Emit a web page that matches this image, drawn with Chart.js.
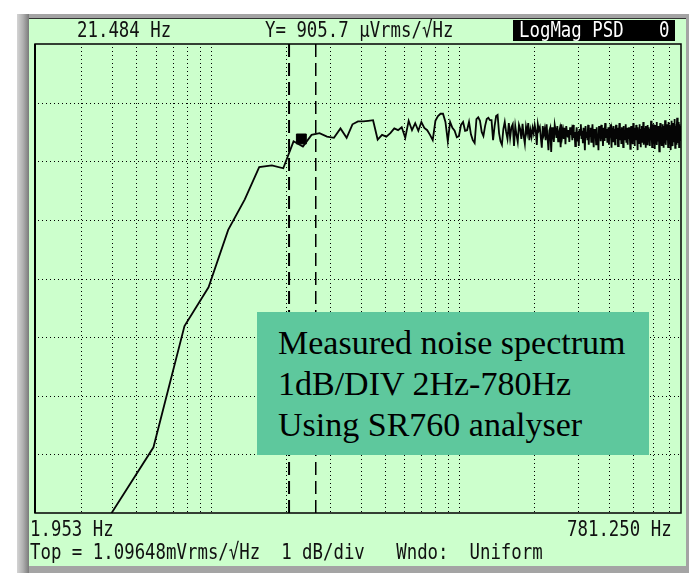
<!DOCTYPE html>
<html>
<head>
<meta charset="utf-8">
<script src="https://cdn.jsdelivr.net/npm/chart.js@4.4.1/dist/chart.umd.min.js"></script>
<style>
  html, body { margin: 0; padding: 0; background: #ffffff; }
  #stage { position: relative; width: 689px; height: 573px; overflow: hidden; background: #ffffff; }
  #frame { position: absolute; left: 17px; top: 14px; width: 672px; height: 559px;
           background: #a4a4a4; }
  #frameLeft { position: absolute; left: 17px; top: 14px; width: 12px; height: 559px;
           background: linear-gradient(to right, #d4d4d4, #b0b0b0 50%, #7a7a7a); }
  #panel { position: absolute; left: 29px; top: 18px; width: 657px; height: 548px; background: #ccffcc;
           border-top: 1px solid #333; box-sizing: border-box; }
  canvas { position: absolute; left: 0; top: 0; }
  .lcd { position: absolute; font-family: "DejaVu Sans Mono", monospace; font-size: 22px; line-height: 22px;
         color: #111; white-space: pre; transform: scaleX(0.79); transform-origin: 0 0; }
  #psdBox { position: absolute; left: 513px; top: 20px; width: 162px; height: 21px; background: #000; }
  #note { position: absolute; left: 257px; top: 312px; width: 392px; height: 143px; background: #5ec89d;
          box-sizing: border-box; padding: 10px 0 0 21px; font-family: "Liberation Serif", "Times New Roman", serif;
          font-size: 34px; line-height: 41px; color: #000; white-space: nowrap; }
</style>
</head>
<body>
<div id="stage">
  <div id="frame"></div>
  <div id="frameLeft"></div>
  <div id="panel"></div>
  <canvas id="c" width="689" height="573"></canvas>
  <div class="lcd" style="left:77px; top:19px;">21.484 Hz</div>
  <div class="lcd" style="left:265px; top:19px;">Y= 905.7 µVrms/√Hz</div>
  <div id="psdBox"></div>
  <div class="lcd" style="left:519px; top:19px; color:#fff;">LogMag PSD</div>
  <div class="lcd" style="left:659px; top:19px; color:#fff;">0</div>
  <div class="lcd" style="left:30px; top:518px;">1.953 Hz</div>
  <div class="lcd" style="left:567px; top:518px;">781.250 Hz</div>
  <div class="lcd" style="left:30px; top:541px;">Top = 1.09648mVrms/√Hz  1 dB/div   Wndo:  Uniform</div>
  <div id="note">Measured noise spectrum<br>1dB/DIV 2Hz-780Hz<br>Using SR760 analyser</div>
</div>
<script>
// ---- Data (dB relative to Top = 1.09648 mVrms/√Hz, 1 dB/div) ----
const startHz = 1.953125;          // first FFT line
const stopHz = 781.25;             // last FFT line (400 lines)
const binWidthHz = 1.953125;
const topDb = 0;
const bottomDb = -8;

// vertical grid frequencies (Hz)
const gridHz = [3,4,5,6,7,8,9,10,20,30,40,50,60,70,80,90,100,200,300,400,500,600,700];
// horizontal grid levels (dB)
const gridDb = [-1,-2,-3,-4,-5,-6,-7];

// cursor band (dashed lines) and cursor marker
const cursorBandHz = [20.61, 26.40];
const markerHz = [23.1];
const markerDb = [-1.62];

// PSD values, one per FFT line (dB re Top)
const psdDb = [
-8.9,-8.05,-6.88,-4.81,-4.15,-3.17,-2.65,-2.10,-2.07,-2.12,
-1.66,-1.75,-1.55,-1.52,-1.58,-1.60,-1.44,-1.60,-1.37,-1.32,
-1.32,-1.31,-1.30,-1.63,-1.55,-1.58,-1.52,-1.44,-1.47,-1.42,
-1.60,-1.31,-1.47,-1.35,-1.48,-1.33,-1.43,-1.47,-1.55,-1.64,
-1.31,-1.23,-1.19,-1.19,-1.33,-1.66,-1.33,-1.43,-1.48,-1.59,
-1.57,-1.38,-1.33,-1.48,-1.47,-1.33,-1.54,-1.64,-1.69,-1.28,
-1.25,-1.31,-1.50,-1.57,-1.40,-1.28,-1.26,-1.30,-1.30,-1.64,
-1.40,-1.23,-1.21,-1.52,-1.66,-1.72,-1.45,-1.33,-1.50,-1.62,
-1.35,-1.60,-1.42,-1.37,-1.74,-1.40,-1.55,-1.67,-1.38,-1.45,
-1.62,-1.36,-1.57,-1.70,-1.41,-1.52,-1.35,-1.64,-1.47,-1.58,
-1.43,-1.52,-1.38,-1.48,-1.72,-1.37,-1.47,-1.42,-1.60,-1.77,
-1.40,-1.54,-1.45,-1.64,-1.37,-1.59,-1.81,-1.48,-1.43,-1.84,
-1.42,-1.55,-1.67,-1.38,-1.47,-1.60,-1.40,-1.66,-1.52,-1.45,
-1.76,-1.37,-1.57,-1.48,-1.62,-1.43,-1.71,-1.40,-1.52,-1.59,
-1.47,-1.67,-1.42,-1.55,-1.48,-1.64,-1.38,-1.60,-1.50,-1.74,
-1.57,-1.42,-1.66,-1.50,-1.74,-1.45,-1.55,-1.37,-1.62,-1.48,
-1.69,-1.43,-1.54,-1.81,-1.40,-1.59,-1.50,-1.64,-1.38,-1.72,
-1.47,-1.57,-1.43,-1.67,-1.52,-1.37,-1.60,-1.76,-1.45,-1.55,
-1.48,-1.71,-1.42,-1.62,-1.54,-1.81,-1.40,-1.57,-1.47,-1.66,
-1.38,-1.59,-1.52,-1.74,-1.43,-1.64,-1.50,-1.35,-1.60,-1.55,
-1.45,-1.67,-1.54,-1.42,-1.72,-1.48,-1.60,-1.37,-1.57,-1.77,
-1.47,-1.52,-1.66,-1.40,-1.59,-1.45,-1.71,-1.50,-1.38,-1.62,
-1.55,-1.43,-1.74,-1.48,-1.57,-1.35,-1.64,-1.54,-1.45,-1.69,
-1.42,-1.60,-1.50,-1.76,-1.40,-1.55,-1.64,-1.47,-1.59,-1.37,
-1.67,-1.52,-1.43,-1.72,-1.48,-1.57,-1.42,-1.62,-1.54,-1.79,
-1.50,-1.40,-1.66,-1.55,-1.45,-1.71,-1.35,-1.59,-1.48,-1.74,
-1.43,-1.54,-1.64,-1.38,-1.60,-1.52,-1.81,-1.42,-1.57,-1.47,
-1.69,-1.37,-1.62,-1.50,-1.76,-1.45,-1.55,-1.40,-1.67,-1.48,
-1.59,-1.33,-1.72,-1.54,-1.43,-1.64,-1.52,-1.77,-1.40,-1.60,
-1.47,-1.71,-1.38,-1.57,-1.48,-1.66,-1.42,-1.62,-1.54,-1.74,
-1.45,-1.55,-1.31,-1.64,-1.52,-1.76,-1.42,-1.60,-1.37,-1.69,
-1.48,-1.57,-1.43,-1.79,-1.38,-1.62,-1.50,-1.59,-1.33,-1.72,
-1.54,-1.45,-1.66,-1.40,-1.60,-1.52,-1.83,-1.43,-1.55,-1.35,
-1.67,-1.47,-1.59,-1.42,-1.74,-1.50,-1.37,-1.62,-1.54,-1.77,
-1.40,-1.57,-1.48,-1.69,-1.30,-1.59,-1.45,-1.72,-1.52,-1.42,
-1.64,-1.37,-1.55,-1.47,-1.76,-1.33,-1.60,-1.52,-1.43,-1.71,
-1.38,-1.57,-1.48,-1.81,-1.42,-1.62,-1.31,-1.67,-1.54,-1.45,
-1.74,-1.35,-1.59,-1.50,-1.66,-1.28,-1.57,-1.43,-1.77,-1.40,
-1.62,-1.52,-1.37,-1.72,-1.47,-1.26,-1.59,-1.42,-1.69,-1.48,
-1.55,-1.33,-1.76,-1.45,-1.60,-1.37,-1.64,-1.50,-1.40,-1.57
];

// table for the library: FFT line n sits at n * binWidthHz
const psdPoints = psdDb.map((v, i) => ({ x: (i + 1) * binWidthHz, y: v }));

// dotted graticule drawn at the library's own scale positions
const dotGridPlugin = {
  id: 'dotGrid',
  beforeDatasetsDraw(chart) {
    const { ctx, chartArea: a, scales } = chart;
    ctx.save();
    ctx.fillStyle = '#000000';
    gridHz.forEach(f => {
      const px = Math.round(scales.x.getPixelForValue(f));
      for (let py = Math.ceil(a.top) + 3; py < a.bottom - 1; py += 4) ctx.fillRect(px, py, 1, 1);
    });
    gridDb.forEach(d => {
      const py = Math.round(scales.y.getPixelForValue(d));
      for (let px = Math.ceil(a.left) + 3; px < a.right - 1; px += 4) ctx.fillRect(px, py, 1, 1);
    });
    ctx.restore();
  }
};

const framePlugin = {
  id: 'frame',
  afterDraw(chart) {
    const { ctx, chartArea: a } = chart;
    ctx.save();
    ctx.strokeStyle = '#000';
    ctx.lineWidth = 1.5;
    ctx.strokeRect(a.left, a.top, a.right - a.left, a.bottom - a.top);
    ctx.lineWidth = 2;
    ctx.beginPath();
    ctx.moveTo(a.left, a.top);
    ctx.lineTo(a.left, a.bottom);
    ctx.stroke();
    ctx.restore();
  }
};

new Chart(document.getElementById('c'), {
  type: 'line',
  data: {
    datasets: [
      { label: 'PSD', data: psdPoints, borderColor: '#050505', borderWidth: 1.8,
        pointRadius: 0, tension: 0, fill: false },
      { label: 'cursor A', data: [{ x: cursorBandHz[0], y: topDb }, { x: cursorBandHz[0], y: bottomDb }],
        borderColor: '#000', borderWidth: 2, borderDash: [13, 6], pointRadius: 0 },
      { label: 'cursor B', data: [{ x: cursorBandHz[1], y: topDb }, { x: cursorBandHz[1], y: bottomDb }],
        borderColor: '#000', borderWidth: 1.5, borderDash: [13, 6], pointRadius: 0 },
      { label: 'marker', data: markerHz.map((f, i) => ({ x: f, y: markerDb[i] })), showLine: false,
        pointStyle: 'rect', pointRadius: 7, backgroundColor: '#000', borderColor: '#000', borderWidth: 1 }
    ]
  },
  options: {
    responsive: false,
    animation: false,
    layout: { padding: { left: 35, top: 44, right: 7, bottom: 60 } },
    plugins: { legend: { display: false }, tooltip: { enabled: false } },
    scales: {
      x: {
        type: 'logarithmic', min: startHz, max: stopHz,
        afterBuildTicks: s => { s.ticks = gridHz.map(v => ({ value: v })); },
        afterFit: s => { s.height = 0; },
        ticks: { display: false },
        grid: { display: false },
        border: { display: false }
      },
      y: {
        type: 'linear', min: bottomDb, max: topDb,
        afterBuildTicks: s => { s.ticks = gridDb.map(v => ({ value: v })); },
        afterFit: s => { s.width = 0; },
        ticks: { display: false },
        grid: { display: false },
        border: { display: false }
      }
    }
  },
  plugins: [dotGridPlugin, framePlugin]
});
</script>
</body>
</html>
